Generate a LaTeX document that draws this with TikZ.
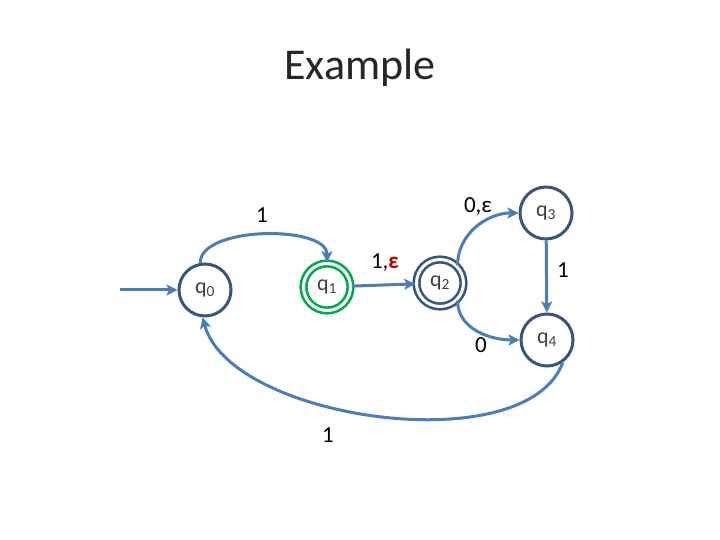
\documentclass[tikz,border=0pt]{standalone}
\usepackage{fontspec}
\setmainfont{Carlito}
\usetikzlibrary{arrows.meta}
\definecolor{edgeblue}{RGB}{74,126,187}
\definecolor{stateblue}{RGB}{56,85,128}
\definecolor{finalgreen}{RGB}{0,168,80}
\definecolor{epsred}{RGB}{192,0,0}
\tikzset{
  state/.style={circle,draw=stateblue,line width=3pt,minimum size=52pt,inner sep=0pt,
    text=black!75,font=\fontsize{22}{24}\selectfont},
  accept/.style={state,double=white,double distance=3pt,line width=2.6pt,minimum size=47pt},
  trans/.style={->,draw=edgeblue,line width=3pt},
  lbl/.style={font=\fontsize{23}{25}\selectfont,text=black}
}
\begin{document}
\begin{tikzpicture}[x=1pt,y=1pt,>={Stealth[length=11pt,width=11pt,inset=2.5pt]}]
		\useasboundingbox (0,0) rectangle (720,540);
		\node[font=\fontsize{44}{48}\selectfont,text=black!85] (title) at (360,472) {Example};
		% states
		\node[state] (q0) at (205,250) {q\textsubscript{0}};
		\node[accept,draw=finalgreen] (q1) at (327,253) {q\textsubscript{1}};
		\node[accept] (q2) at (440,257) {q\textsubscript{2}};
		\node[state] (q3) at (546,327) {q\textsubscript{3}};
		\node[state] (q4) at (547,200) {q\textsubscript{4}};
		\coordinate (start) at (120,250);
		% transitions
		\draw[trans] (start) -- (q0);
		\draw[trans] (q0.100) to[out=90,in=90,looseness=0.75] (q1.north);
		\draw[trans] (q1) -- (q2);
		\draw[trans] (q2.45) to[out=90,in=180] (q3.west);
		\draw[trans] (q2.-45) to[out=-90,in=180] (q4.west);
		\draw[trans] (q3) -- (q4);
		\draw[trans] (q4.-55) to[out=-110,in=-75,looseness=0.75] (q0.-95);
		% labels
		\node[lbl] (l01) at (262,325) {1};
		\node[lbl] (l12) at (385,277) {1,\textcolor{epsred}{\textbf{ε}}};
		\node[lbl] (l23) at (478,333) {0,ε};
		\node[lbl] (l24) at (481,195) {0};
		\node[lbl] (l34) at (563,270) {1};
		\node[lbl] (l40) at (328,105) {1};
\end{tikzpicture}
\end{document}
